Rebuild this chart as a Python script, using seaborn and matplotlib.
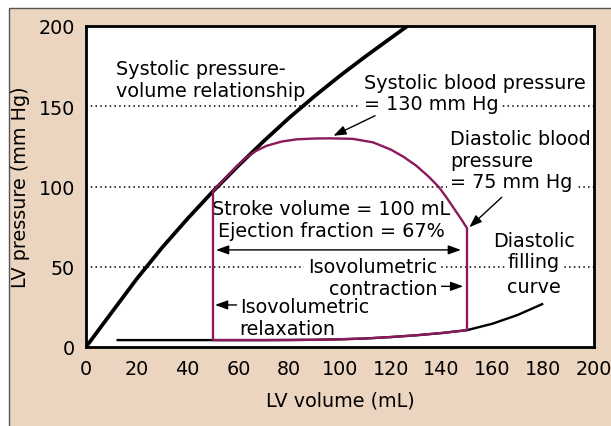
import matplotlib
matplotlib.use("Agg")
import matplotlib.pyplot as plt
import seaborn as sns
from matplotlib.patches import Rectangle

## Values
# systolic pressure-volume relationship (mL, mm Hg)
esp_vol = [0, 10, 20, 30, 40, 50, 60, 70, 80, 90, 100, 110, 120, 127]
esp_p = [0, 21.3, 42.5, 62, 80, 97, 113, 128.3, 142.8, 156.3, 169, 181, 192.5, 200.5]
# diastolic filling curve
dias_vol = [12, 30, 50, 70, 90, 100, 110, 120, 130, 140, 150, 160, 170, 180]
dias_p = [4.3, 4.3, 4.3, 4.3, 4.5, 4.8, 5.3, 6.2, 7.3, 8.7, 10.5, 14.5, 20, 27]
# pressure-volume loop
loop_vol = [50, 60, 70, 80, 90, 100, 110, 120, 130, 140, 150, 150, 148, 145, 142, 139,
            135, 130, 125, 120, 113, 105, 96, 90, 83, 77, 71, 67, 63, 59, 55, 52, 50, 50]
loop_p = [4.3, 4.3, 4.3, 4.3, 4.5, 4.8, 5.3, 6.2, 7.3, 8.7, 10.5, 74, 79, 86, 93, 99.5,
          106, 113, 118.5, 123, 127.5, 129.7, 130, 129.9, 129.4, 128, 125.3, 122.2, 118,
          112, 105.5, 100.5, 97, 4.3]
ref_lines = [50, 100, 150]
x_ticks = list(range(0, 201, 20))
y_ticks = [0, 50, 100, 150, 200]

purple = "#8c195a"
beige = "#ecd5c0"

sns.set_style("white")
plt.rcParams["font.family"] = ["DejaVu Sans"]
plt.rcParams["font.size"] = 13.8
for key in ["text.color", "axes.labelcolor", "xtick.color", "ytick.color"]:
    plt.rcParams[key] = "black"

fig = plt.figure(figsize=(6.11, 4.27), dpi=100)
fig.patch.set_facecolor("white")
fig.patches.append(Rectangle((9 / 611, -0.1), 1.1, 1.1 - 9 / 427, transform=fig.transFigure,
                             facecolor=beige, edgecolor="#555555", lw=1, zorder=-10))
ax = fig.add_axes([86 / 611, 1 - 348 / 427, 508 / 611, 321 / 427])
ax.set_facecolor("white")

# dotted reference lines
for p in ref_lines:
    ax.axhline(p, color="black", lw=1.1, ls=(0, (1, 2.1)), zorder=1)

sns.lineplot(x=esp_vol, y=esp_p, sort=False, estimator=None, color="black", lw=2.7, ax=ax, zorder=4)
sns.lineplot(x=dias_vol, y=dias_p, sort=False, estimator=None, color="black", lw=1.7, ax=ax, zorder=4)
sns.lineplot(x=loop_vol, y=loop_p, sort=False, estimator=None, color=purple, lw=1.7, ax=ax, zorder=5)
for ln in ax.lines:
    ln.set_solid_capstyle("butt")
    ln.set_solid_joinstyle("miter")

ax.set_xlim(0, 200)
ax.set_ylim(0, 200)
ax.set_xticks(x_ticks)
ax.set_yticks(y_ticks)
ax.tick_params(axis="x", direction="in", length=5, width=1.1, pad=9)
ax.tick_params(axis="y", length=0, pad=8)
for s in ax.spines.values():
    s.set_linewidth(2)
    s.set_color("black")
ax.set_xlabel("LV volume (mL)", labelpad=9)
ax.set_ylabel("LV pressure (mm Hg)", labelpad=6)

box = dict(facecolor="white", edgecolor="none", pad=2.5)

# Annotations (y = baseline of the last line)
ax.text(11.8, 156.6, "Systolic pressure-\nvolume relationship", va="baseline", ha="left")
ax.text(109.4, 161.4, "Systolic blood pressure", va="baseline", ha="left")
ax.text(109.4, 148, "= 130 mm Hg", va="baseline", ha="left", bbox=box, zorder=2)
ax.text(143.3, 113, "Diastolic blood\npressure", va="baseline", ha="left")
ax.text(143.3, 99.5, "= 75 mm Hg", va="baseline", ha="left", bbox=box, zorder=2)
ax.text(96.5, 69.2, "Stroke volume = 100 mL\nEjection fraction = 67%", va="baseline", ha="center")
ax.text(138.2, 33, "Isovolumetric\ncontraction", va="baseline", ha="right", bbox=box, zorder=2)
ax.text(60.5, 8.1, "Isovolumetric\nrelaxation", va="baseline", ha="left")
ax.text(176.4, 63.1, "Diastolic", va="baseline", ha="center")
ax.text(176.4, 49.7, "filling", va="baseline", ha="center", bbox=box, zorder=2)
ax.text(176.4, 34.3, "curve", va="baseline", ha="center")

arrow = dict(arrowstyle="-|>,head_length=0.55,head_width=0.2", color="black", lw=1,
             shrinkA=0, shrinkB=0)
arrow2 = dict(arrowstyle="<|-|>,head_length=0.55,head_width=0.2", color="black", lw=1,
              shrinkA=0, shrinkB=0)
ax.annotate("", xy=(97.4, 131.6), xytext=(113.8, 144.1), arrowprops=arrow, zorder=6)
ax.annotate("", xy=(150.9, 74.6), xytext=(163.7, 93.3), arrowprops=arrow, zorder=6)
ax.annotate("", xy=(51.2, 60.5), xytext=(147.6, 60.5), arrowprops=arrow2, zorder=6)
ax.annotate("", xy=(148.5, 37.8), xytext=(140, 37.8), arrowprops=arrow, zorder=6)
ax.annotate("", xy=(50.8, 26.2), xytext=(59.3, 26.2), arrowprops=arrow, zorder=6)

fig.savefig("out.png", dpi=100, facecolor="white")
